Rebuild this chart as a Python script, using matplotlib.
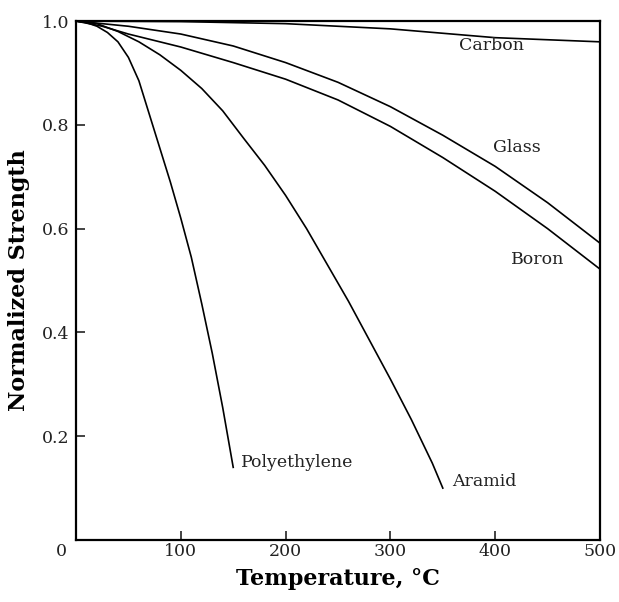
import matplotlib
matplotlib.use("Agg")
import matplotlib.pyplot as plt

# data (temperature in C, normalized strength)
carbon_t = [0, 100, 200, 300, 400, 500]
carbon_s = [1.0, 0.999, 0.995, 0.985, 0.968, 0.96]

glass_t = [0, 25, 50, 100, 150, 200, 250, 300, 350, 400, 450, 500]
glass_s = [1.0, 0.995, 0.99, 0.975, 0.952, 0.92, 0.882, 0.835, 0.78, 0.72, 0.65, 0.572]

boron_t = [0, 25, 50, 100, 150, 200, 250, 300, 350, 400, 450, 500]
boron_s = [1.0, 0.99, 0.975, 0.95, 0.92, 0.888, 0.848, 0.797, 0.737, 0.672, 0.6, 0.522]

aramid_t = [0, 20, 40, 60, 80, 100, 120, 140, 160, 180, 200, 220, 240, 260, 280, 300, 320, 340, 350]
aramid_s = [1.0, 0.995, 0.98, 0.96, 0.935, 0.905, 0.87, 0.827, 0.774, 0.722, 0.664, 0.6, 0.53, 0.46,
            0.385, 0.31, 0.232, 0.148, 0.10]

poly_t = [0, 10, 20, 30, 40, 50, 60, 70, 80, 90, 100, 110, 120, 130, 140, 150]
poly_s = [1.0, 0.997, 0.99, 0.978, 0.96, 0.93, 0.885, 0.82, 0.755, 0.69, 0.62, 0.545, 0.455,
          0.36, 0.255, 0.14]

labels = ["Carbon", "Glass", "Boron", "Polyethylene", "Aramid"]
label_pos = [(396, 0.952), (421, 0.757), (441, 0.54), (157, 0.15), (359, 0.112)]

plt.rcParams['font.family'] = 'DejaVu Serif'

fig = plt.figure(figsize=(6.19, 6.02), dpi=100)
ax = fig.add_axes([0.1228, 0.103, 0.8465, 0.862])

for t, s in [(carbon_t, carbon_s), (glass_t, glass_s), (boron_t, boron_s),
             (aramid_t, aramid_s), (poly_t, poly_s)]:
    ax.plot(t, s, color='black', lw=1.2)

for name, (x, y) in zip(labels, label_pos):
    ha = 'center' if name in ("Carbon", "Glass", "Boron") else 'left'
    ax.text(x, y, name, fontsize=12.5, ha=ha, va='center', color='#222222')

ax.set_xlim(0, 500)
ax.set_ylim(0, 1.0)
ax.set_xticks([100, 200, 300, 400, 500])
ax.set_yticks([0.2, 0.4, 0.6, 0.8, 1.0])
ax.set_yticklabels(["0.2", "0.4", "0.6", "0.8", "1.0"])
ax.tick_params(direction='in', length=6.5, width=1.2, labelsize=12.5,
               colors='#222222', pad=5)
ax.tick_params(axis='x', pad=2)
for sp in ax.spines.values():
    sp.set_linewidth(1.6)

# the lone "0" at the origin sits a little left of the axis
ax.text(-14, -0.006, "0", fontsize=12.5, ha='center', va='top', color='#222222',
        clip_on=False)

ax.set_xlabel("Temperature, \u00b0C", fontsize=16, fontweight='bold', labelpad=6)
ax.set_ylabel("Normalized Strength", fontsize=16, fontweight='bold', labelpad=8)

fig.savefig("out.png", dpi=100)
